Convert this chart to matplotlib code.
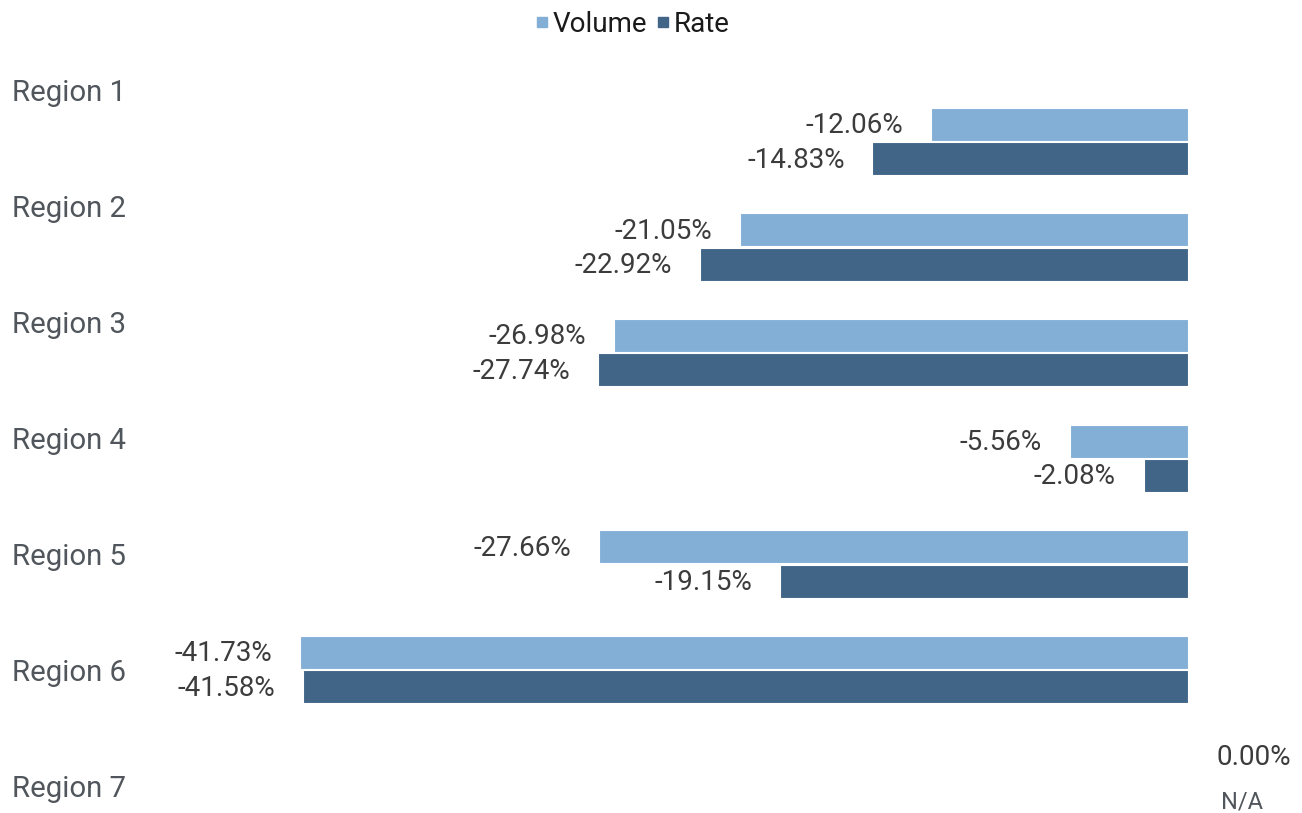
import matplotlib
matplotlib.use("Agg")
import matplotlib.pyplot as plt
from matplotlib.lines import Line2D
import numpy as np

plt.rcParams['font.family'] = ['Roboto', 'DejaVu Sans']

# data
regions = ["Region 1", "Region 2", "Region 3", "Region 4", "Region 5", "Region 6", "Region 7"]
volume = [-12.06, -21.05, -26.98, -5.56, -27.66, -41.73, None]
rate = [-14.83, -22.92, -27.74, -2.08, -19.15, -41.58, None]
series_names = ["Volume", "Rate"]
colors = ["#83afd6", "#416587"]

W, H = 1302, 813
fig = plt.figure(figsize=(W / 100, H / 100), dpi=100)
ax = fig.add_axes([0, 0, 1, 1])
px_x = 21.28   # pixels per percent
zero_px = 1188
step = 105.6   # pixels per category
first = 141.5
ax.set_xlim(-zero_px / px_x, (W - zero_px) / px_x)
ax.set_ylim((H - first) / step, -first / step)
ax.axis('off')

bar_h = 0.3125
offsets = [-0.163, 0.163]
y = np.arange(len(regions))

# category labels sit on their own, slightly wider grid
for i, name in enumerate(regions):
    fig.text(12 / W, 1 - (93 + 116 * i) / H, name, ha='left', va='center',
             fontsize=21.2, color='#50565b')

for s, vals in enumerate([volume, rate]):
    for i, v in enumerate(vals):
        if v is None:
            continue
        ax.barh(y[i] + offsets[s], v, height=bar_h, color=colors[s],
                edgecolor='white', linewidth=0.8)
        ax.annotate(f"{v:.2f}%", (v, y[i] + offsets[s]), xytext=(-20, -1),
                    textcoords='offset points', ha='right', va='center',
                    fontsize=20, color='#3c3c3c')

# region 7 has no data
ax.annotate("0.00%", (0, y[6] + offsets[0]), xytext=(20.5, 0), textcoords='offset points',
            ha='left', va='center', fontsize=20, color='#3c3c3c')
ax.annotate("N/A", (0, y[6] + offsets[1]), xytext=(24, -7), textcoords='offset points',
            ha='left', va='center', fontsize=17, color='#50565b')

handles = [Line2D([], [], marker='s', linestyle='none', markersize=7, color=c) for c in colors]
fig.legend(handles, series_names, loc='center', bbox_to_anchor=(0.486, 0.970), ncol=2,
           frameon=False, fontsize=20, handletextpad=0.2, columnspacing=0.35,
           handlelength=0.4, labelcolor='#1a1a1a')

fig.savefig("out.png", dpi=100)
